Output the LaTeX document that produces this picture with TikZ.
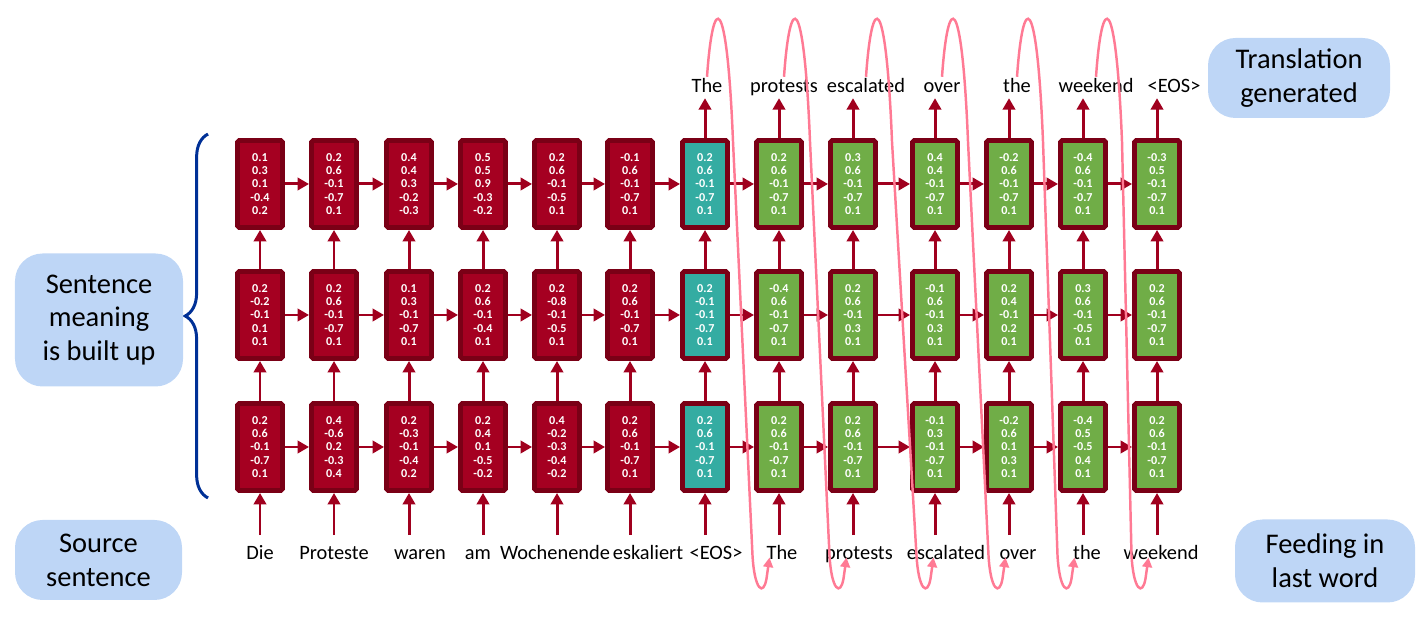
\documentclass[tikz,border=0pt]{standalone}
\usepackage{fontspec}
\setmainfont{Carlito}
\usetikzlibrary{arrows.meta, positioning, calc, decorations.pathreplacing}
\definecolor{cellred}{RGB}{165,0,33}
\definecolor{cellrim}{RGB}{122,0,22}
\definecolor{cellteal}{RGB}{52,172,162}
\definecolor{cellgreen}{RGB}{112,173,71}
\definecolor{flowred}{RGB}{160,0,30}
\definecolor{feedpink}{RGB}{255,122,148}
\definecolor{notebg}{RGB}{190,214,246}
\definecolor{bracebl}{RGB}{0,48,150}
\newcommand\cellfont{\bfseries\fontsize{6.9}{7.5}\selectfont}
\newcommand\wordfont{\fontsize{11.6}{13.7}\selectfont}
\newcommand\notefont{\fontsize{16.2}{19.2}\selectfont}

\begin{document}
\begin{tikzpicture}[
            cell/.style = {draw=cellrim, line width=2.8pt, rounded corners=1pt,
                minimum width=0.9cm, minimum height=1.74cm, inner sep=0pt,
                align=center, text=white, font=\cellfont},
            wrd/.style = {font=\wordfont, inner sep=1pt, text height=1.6ex, text depth=.45ex},
            note/.style = {fill=notebg, rounded corners=0.55cm, align=center, font=\notefont},
            flow/.style = {-{Triangle[length=6.5pt,width=7pt]}, line width=1.7pt, draw=flowred},
            feed/.style = {-{Triangle[length=5.5pt,width=5.5pt]}, line width=1.4pt, draw=feedpink},
            brc/.style = {decorate, decoration={brace, amplitude=13pt}, line width=1.7pt, draw=bracebl},
            >=latex]
            \useasboundingbox (0,0) rectangle (28.5,12.36);
            \def\ytop{8.68}
            \def\ymid{6.06}
            \def\ybot{3.42}
            \foreach \x/\c/\v [count=\i] in {
                5.20/cellred/{0.1\\0.3\\0.1\\-0.4\\0.2},
                6.68/cellred/{0.2\\0.6\\-0.1\\-0.7\\0.1},
                8.18/cellred/{0.4\\0.4\\0.3\\-0.2\\-0.3},
                9.66/cellred/{0.5\\0.5\\0.9\\-0.3\\-0.2},
                11.14/cellred/{0.2\\0.6\\-0.1\\-0.5\\0.1},
                12.60/cellred/{-0.1\\0.6\\-0.1\\-0.7\\0.1},
                14.10/cellteal/{0.2\\0.6\\-0.1\\-0.7\\0.1},
                15.58/cellgreen/{0.2\\0.6\\-0.1\\-0.7\\0.1},
                17.06/cellgreen/{0.3\\0.6\\-0.1\\-0.7\\0.1},
                18.70/cellgreen/{0.4\\0.4\\-0.1\\-0.7\\0.1},
                20.18/cellgreen/{-0.2\\0.6\\-0.1\\-0.7\\0.1},
                21.66/cellgreen/{-0.4\\0.6\\-0.1\\-0.7\\0.1},
                23.14/cellgreen/{-0.3\\0.5\\-0.1\\-0.7\\0.1}}
                \node[cell, fill=\c] (top\i) at (\x,\ytop) {\v};
            \foreach \x/\c/\v [count=\i] in {
                5.20/cellred/{0.2\\-0.2\\-0.1\\0.1\\0.1},
                6.68/cellred/{0.2\\0.6\\-0.1\\-0.7\\0.1},
                8.18/cellred/{0.1\\0.3\\-0.1\\-0.7\\0.1},
                9.66/cellred/{0.2\\0.6\\-0.1\\-0.4\\0.1},
                11.14/cellred/{0.2\\-0.8\\-0.1\\-0.5\\0.1},
                12.60/cellred/{0.2\\0.6\\-0.1\\-0.7\\0.1},
                14.10/cellteal/{0.2\\-0.1\\-0.1\\-0.7\\0.1},
                15.58/cellgreen/{-0.4\\0.6\\-0.1\\-0.7\\0.1},
                17.06/cellgreen/{0.2\\0.6\\-0.1\\0.3\\0.1},
                18.70/cellgreen/{-0.1\\0.6\\-0.1\\0.3\\0.1},
                20.18/cellgreen/{0.2\\0.4\\-0.1\\0.2\\0.1},
                21.66/cellgreen/{0.3\\0.6\\-0.1\\-0.5\\0.1},
                23.14/cellgreen/{0.2\\0.6\\-0.1\\-0.7\\0.1}}
                \node[cell, fill=\c] (mid\i) at (\x,\ymid) {\v};
            \foreach \x/\c/\v [count=\i] in {
                5.20/cellred/{0.2\\0.6\\-0.1\\-0.7\\0.1},
                6.68/cellred/{0.4\\-0.6\\0.2\\-0.3\\0.4},
                8.18/cellred/{0.2\\-0.3\\-0.1\\-0.4\\0.2},
                9.66/cellred/{0.2\\0.4\\0.1\\-0.5\\-0.2},
                11.14/cellred/{0.4\\-0.2\\-0.3\\-0.4\\-0.2},
                12.60/cellred/{0.2\\0.6\\-0.1\\-0.7\\0.1},
                14.10/cellteal/{0.2\\0.6\\-0.1\\-0.7\\0.1},
                15.58/cellgreen/{0.2\\0.6\\-0.1\\-0.7\\0.1},
                17.06/cellgreen/{0.2\\0.6\\-0.1\\-0.7\\0.1},
                18.70/cellgreen/{-0.1\\0.3\\-0.1\\-0.7\\0.1},
                20.18/cellgreen/{-0.2\\0.6\\0.1\\0.3\\0.1},
                21.66/cellgreen/{-0.4\\0.5\\-0.5\\0.4\\0.1},
                23.14/cellgreen/{0.2\\0.6\\-0.1\\-0.7\\0.1}}
                \node[cell, fill=\c] (bot\i) at (\x,\ybot) {\v};
            \foreach \x/\w/\d [count=\i] in {5.20/Die/0, 6.68/Proteste/0, 8.18/waren/0.22,
                9.66/am/-0.1, 11.14/Wochenende/-0.04, 12.60/eskaliert/0.36, 14.10/{<EOS>}/0.22,
                15.58/The/0.06, 17.06/protests/0.12, 18.70/escalated/0.22, 20.18/over/0.18,
                21.66/the/0.08, 23.14/weekend/0.08}
                \node[wrd] (in\i) at (\x+\d,1.27) {\w};
            \foreach \w/\d [count=\i from 7] in {The/0.04, protests/0.1, escalated/0.26,
                over/0.14, the/0.16, weekend/0.26, {<EOS>}/0.34}
                \node[wrd] (out\i) at ($(top\i)+(\d,1.93)$) {\w};
            \foreach \i in {1,...,13} {
                \draw[flow, shorten <=5pt] (in\i.north -| bot\i.south) -- (bot\i.south);
                \draw[flow] (bot\i) -- (mid\i);
                \draw[flow] (mid\i) -- (top\i);
            }
            \foreach \i [evaluate=\i as \j using int(\i+1)] in {1,...,12} {
                \draw[flow] (bot\i) -- (bot\j);
                \draw[flow] (mid\i) -- (mid\j);
                \draw[flow] (top\i) -- (top\j);
            }
            \foreach \i in {7,...,13}
                \draw[flow] (top\i.north) -- (out\i.south -| top\i.north);
            \foreach \i [evaluate=\i as \j using int(\i+1)] in {7,...,12}
                \draw[feed] (out\i.north)
                    .. controls ($(out\i.north)+(0.12,1.72)$) and ($(out\i.north)+(0.40,1.72)$)
                    .. ($(out\i.north)+(0.52,-1.30)$)
                    -- ($(in\j)+(-0.59,-0.02)$)
                    .. controls ($(in\j)+(-0.55,-0.72)$) and ($(in\j)+(-0.37,-0.84)$)
                    .. ($(in\j)+(-0.31,-0.48)$)
                    -- ($(in\j)+(-0.25,-0.06)$);
            \draw[brc] ([xshift=-0.54cm,yshift=-0.1cm]bot1.south west)
                -- ([xshift=-0.54cm,yshift=0.08cm]top1.north west);
            \node[note, minimum width=3.36cm, minimum height=2.66cm] (meaning) at (1.98,5.96)
                {Sentence\\meaning\\is built up};
            \node[note, minimum width=3.34cm, minimum height=1.6cm] (source) at (1.97,1.16)
                {Source\\sentence};
            \node[note, minimum width=3.64cm, minimum height=1.6cm] (target) at (25.98,10.8)
                {Translation\\generated};
            \node[note, minimum width=3.6cm, minimum height=1.66cm] (feeding) at (26.5,1.14)
                {Feeding in\\last word};
        \end{tikzpicture}
\end{document}
